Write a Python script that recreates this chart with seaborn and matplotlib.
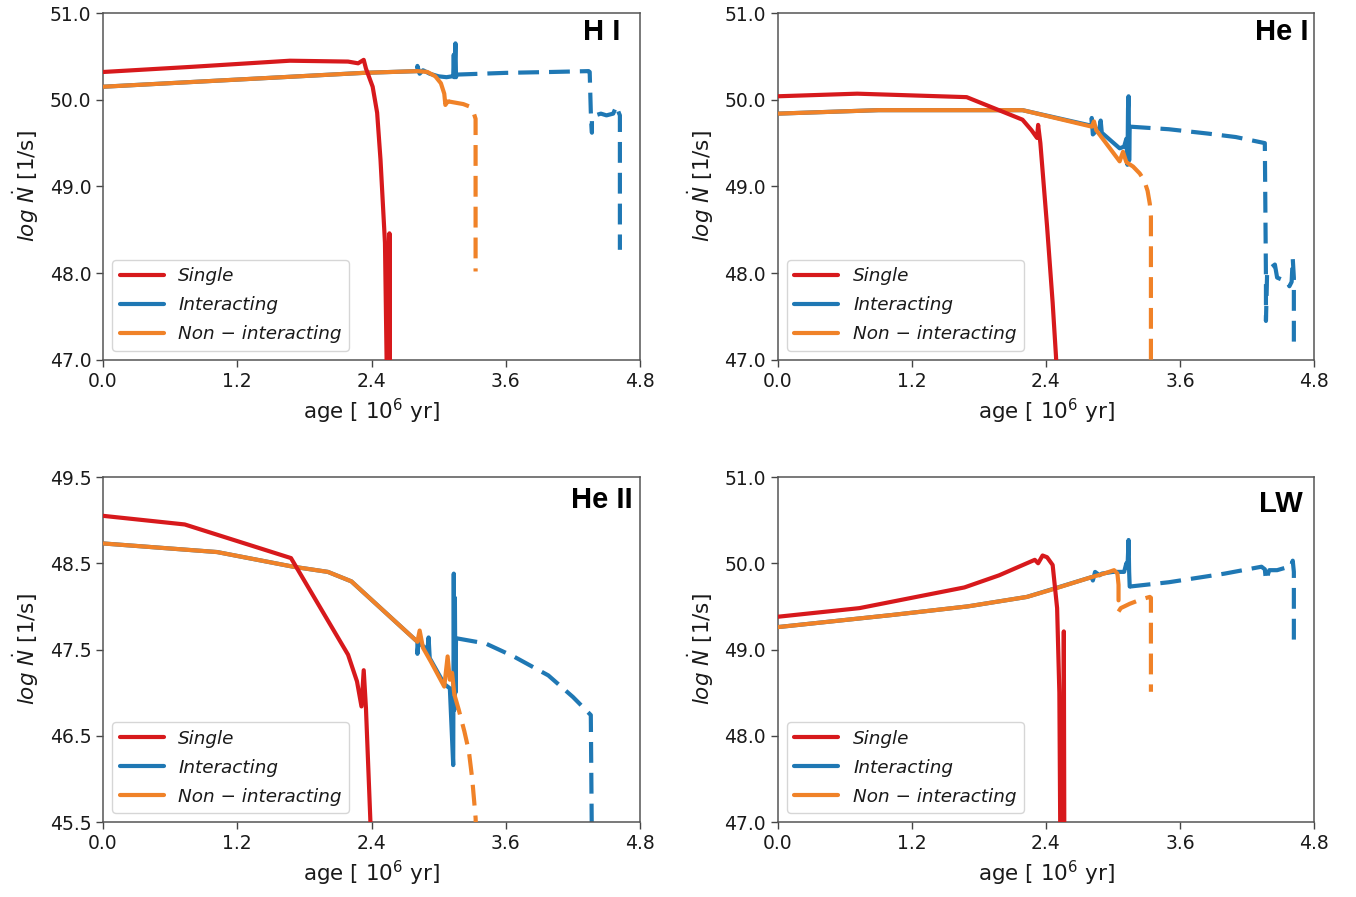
import matplotlib
matplotlib.use("Agg")
import matplotlib.pyplot as plt
import seaborn as sns

# ---------------- data (age in Myr, log Ndot in 1/s) ----------------
AGE_TICKS = [0.0, 1.2, 2.4, 3.6, 4.8]
YTICKS_HI = [47.0, 48.0, 49.0, 50.0, 51.0]
YTICKS_HEI = [47.0, 48.0, 49.0, 50.0, 51.0]
YTICKS_HEII = [45.5, 46.5, 47.5, 48.5, 49.5]
YTICKS_LW = [47.0, 48.0, 49.0, 50.0, 51.0]
PANEL_NAMES = ["H I", "He I", "He II", "LW"]
SERIES_NAMES = ["Single", "Interacting", "Non \u2212 interacting"]

# --- H I ---
HI_single_age = [0.0, 0.8, 1.67, 2.19, 2.28, 2.33, 2.35, 2.41, 2.45, 2.48, 2.52, 2.54, 2.555, 2.56, 2.565]
HI_single_val = [50.32, 50.38, 50.45, 50.44, 50.42, 50.46, 50.36, 50.15, 49.85, 49.31, 48.35, 46.5, 46.5, 48.46, 46.5]
HI_inter_age = [0.0, 2.33, 2.81, 2.81, 2.83, 2.86, 2.92, 3.0, 3.07, 3.12, 3.13, 3.135, 3.14, 3.15, 3.155, 3.16]
HI_inter_val = [50.15, 50.31, 50.33, 50.39, 50.30, 50.34, 50.30, 50.27, 50.26, 50.27, 50.27, 50.52, 50.26, 50.65, 50.26, 50.29]
HI_inter_dash_age = [3.16, 3.6, 4.0, 4.34, 4.35, 4.36, 4.37, 4.37, 4.40, 4.45, 4.50, 4.56, 4.59, 4.61, 4.62, 4.62]
HI_inter_dash_val = [50.29, 50.31, 50.32, 50.33, 50.32, 49.86, 49.62, 49.80, 49.82, 49.84, 49.82, 49.84, 49.93, 49.85, 49.82, 48.27]
HI_non_age = [0.0, 2.33, 2.81, 2.9, 2.97, 3.02, 3.05, 3.06, 3.08, 3.09]
HI_non_val = [50.15, 50.31, 50.33, 50.32, 50.27, 50.19, 50.07, 49.94, 49.98, 49.98]
HI_non_dash_age = [3.09, 3.22, 3.28, 3.31, 3.33, 3.33]
HI_non_dash_val = [49.98, 49.95, 49.92, 49.86, 49.78, 48.02]

# --- He I ---
HEI_single_age = [0.0, 0.71, 1.69, 2.19, 2.27, 2.32, 2.33, 2.35, 2.41, 2.46, 2.49, 2.51]
HEI_single_val = [50.04, 50.07, 50.03, 49.77, 49.65, 49.56, 49.71, 49.50, 48.54, 47.66, 47.04, 46.5]
HEI_inter_age = [0.0, 0.9, 2.19, 2.81, 2.81, 2.82, 2.88, 2.89, 2.90, 3.06, 3.10, 3.12, 3.13, 3.135, 3.14, 3.145, 3.15]
HEI_inter_val = [49.84, 49.88, 49.88, 49.70, 49.79, 49.60, 49.68, 49.76, 49.62, 49.44, 49.46, 49.55, 49.25, 49.90, 50.04, 49.30, 49.69]
HEI_inter_dash_age = [3.15, 3.5, 3.85, 4.1, 4.36, 4.37, 4.37, 4.38, 4.40, 4.45, 4.47, 4.56, 4.58, 4.60, 4.61, 4.62, 4.62]
HEI_inter_dash_val = [49.69, 49.66, 49.61, 49.57, 49.50, 47.95, 47.45, 47.98, 48.05, 48.10, 47.95, 47.90, 47.85, 47.90, 48.17, 47.95, 47.10]
HEI_non_age = [0.0, 0.9, 2.19, 2.81, 2.83, 2.85, 3.06, 3.09, 3.12]
HEI_non_val = [49.84, 49.88, 49.88, 49.69, 49.75, 49.65, 49.29, 49.40, 49.28]
HEI_non_dash_age = [3.12, 3.18, 3.24, 3.28, 3.31, 3.33, 3.34, 3.34]
HEI_non_dash_val = [49.28, 49.23, 49.15, 49.07, 48.95, 48.80, 48.65, 46.5]

# --- He II ---
HEII_single_age = [0.0, 0.73, 1.68, 2.19, 2.27, 2.31, 2.33, 2.35, 2.39, 2.41]
HEII_single_val = [49.05, 48.95, 48.56, 47.44, 47.13, 46.84, 47.26, 46.82, 45.50, 45.2]
HEII_inter_age = [0.0, 1.02, 1.70, 2.01, 2.22, 2.81, 2.81, 2.82, 2.90, 2.91, 2.92, 3.05, 3.10, 3.13, 3.135, 3.14, 3.145, 3.15, 3.155]
HEII_inter_val = [48.73, 48.63, 48.46, 48.40, 48.29, 47.59, 47.45, 47.58, 47.50, 47.64, 47.40, 47.10, 47.05, 46.16, 48.38, 46.80, 48.10, 47.00, 47.63]
HEII_inter_dash_age = [3.16, 3.42, 3.67, 3.98, 4.2, 4.36, 4.37]
HEII_inter_dash_val = [47.63, 47.57, 47.42, 47.20, 46.95, 46.74, 45.2]
HEII_non_age = [0.0, 1.02, 1.70, 2.01, 2.22, 2.81, 2.83, 2.86, 2.93, 3.05, 3.08, 3.10, 3.12, 3.14]
HEII_non_val = [48.73, 48.63, 48.46, 48.40, 48.29, 47.59, 47.72, 47.52, 47.36, 47.07, 47.42, 47.15, 47.23, 46.98]
HEII_non_dash_age = [3.14, 3.18, 3.23, 3.27, 3.30, 3.33, 3.34]
HEII_non_dash_val = [46.98, 46.80, 46.55, 46.32, 46.00, 45.55, 45.2]

# --- LW ---
LW_single_age = [0.0, 0.73, 1.67, 1.98, 2.30, 2.33, 2.37, 2.41, 2.46, 2.50, 2.52, 2.53, 2.555, 2.56, 2.565]
LW_single_val = [49.38, 49.48, 49.72, 49.86, 50.04, 50.00, 50.09, 50.07, 49.98, 49.48, 48.5, 46.5, 46.5, 49.21, 46.5]
LW_inter_age = [0.0, 1.02, 1.70, 2.23, 2.81, 2.82, 2.84, 2.88, 2.90, 3.0, 3.10, 3.12, 3.13, 3.14, 3.145, 3.15]
LW_inter_val = [49.26, 49.40, 49.50, 49.61, 49.84, 49.80, 49.90, 49.86, 49.88, 49.90, 49.90, 50.00, 49.95, 50.27, 49.90, 49.73]
LW_inter_dash_age = [3.15, 3.5, 4.0, 4.33, 4.36, 4.37, 4.40, 4.47, 4.55, 4.59, 4.61, 4.62, 4.62]
LW_inter_dash_val = [49.73, 49.78, 49.88, 49.96, 49.93, 49.80, 49.92, 49.92, 49.95, 49.95, 50.03, 49.90, 49.01]
LW_non_age = [0.0, 1.02, 1.70, 2.23, 2.44, 2.81, 2.92, 3.01, 3.04, 3.05, 3.05]
LW_non_val = [49.26, 49.40, 49.50, 49.61, 49.69, 49.84, 49.88, 49.92, 49.88, 49.75, 49.57]
LW_non_dash_age = [3.05, 3.07, 3.15, 3.25, 3.33, 3.34, 3.34]
LW_non_dash_val = [49.44, 49.48, 49.53, 49.58, 49.61, 49.60, 48.51]

# ---------------- style ----------------
sns.set_style("ticks")
plt.rcParams["font.family"] = ["DejaVu Sans"]
plt.rcParams["mathtext.fontset"] = "dejavusans"
plt.rcParams["text.color"] = "#1a1a1a"
plt.rcParams["axes.labelcolor"] = "#1a1a1a"
plt.rcParams["xtick.color"] = "#1a1a1a"
plt.rcParams["ytick.color"] = "#1a1a1a"

RED = "#d7191c"
BLUE = "#1f78b4"
ORANGE = "#f08228"
LW_LINE = 3.0
DASH = (0, (5, 2.4))

fig = plt.figure(figsize=(13.56, 8.97), dpi=100)
positions = [
    [0.0760, 0.5987, 0.3960, 0.3868],
    [0.5737, 0.5987, 0.3953, 0.3868],
    [0.0760, 0.0836, 0.3960, 0.3846],
    [0.5737, 0.0836, 0.3953, 0.3846],
]

panels = [
    dict(name=PANEL_NAMES[0], yticks=YTICKS_HI,
         single=(HI_single_age, HI_single_val),
         inter=(HI_inter_age, HI_inter_val), inter_d=(HI_inter_dash_age, HI_inter_dash_val),
         non=(HI_non_age, HI_non_val), non_d=(HI_non_dash_age, HI_non_dash_val),
         lx=0.964, ly=0.922),
    dict(name=PANEL_NAMES[1], yticks=YTICKS_HEI,
         single=(HEI_single_age, HEI_single_val),
         inter=(HEI_inter_age, HEI_inter_val), inter_d=(HEI_inter_dash_age, HEI_inter_dash_val),
         non=(HEI_non_age, HEI_non_val), non_d=(HEI_non_dash_age, HEI_non_dash_val),
         lx=0.989, ly=0.922),
    dict(name=PANEL_NAMES[2], yticks=YTICKS_HEII,
         single=(HEII_single_age, HEII_single_val),
         inter=(HEII_inter_age, HEII_inter_val), inter_d=(HEII_inter_dash_age, HEII_inter_dash_val),
         non=(HEII_non_age, HEII_non_val), non_d=(HEII_non_dash_age, HEII_non_dash_val),
         lx=0.986, ly=0.910),
    dict(name=PANEL_NAMES[3], yticks=YTICKS_LW,
         single=(LW_single_age, LW_single_val),
         inter=(LW_inter_age, LW_inter_val), inter_d=(LW_inter_dash_age, LW_inter_dash_val),
         non=(LW_non_age, LW_non_val), non_d=(LW_non_dash_age, LW_non_dash_val),
         lx=0.979, ly=0.899),
]

for pos, p in zip(positions, panels):
    ax = fig.add_axes(pos)
    common = dict(ax=ax, sort=False, estimator=None, linewidth=LW_LINE)
    sns.lineplot(x=p["single"][0], y=p["single"][1], color=RED, label=SERIES_NAMES[0], zorder=4, **common)
    sns.lineplot(x=p["inter"][0], y=p["inter"][1], color=BLUE, label=SERIES_NAMES[1], zorder=2, **common)
    sns.lineplot(x=p["non"][0], y=p["non"][1], color=ORANGE, label=SERIES_NAMES[2], zorder=3, **common)
    sns.lineplot(x=p["inter_d"][0], y=p["inter_d"][1], color=BLUE, linestyle=DASH,
                 label="_nolegend_", zorder=2, **common)
    sns.lineplot(x=p["non_d"][0], y=p["non_d"][1], color=ORANGE, linestyle=DASH,
                 label="_nolegend_", zorder=3, **common)

    ax.set_xlim(AGE_TICKS[0], AGE_TICKS[-1])
    ax.set_ylim(p["yticks"][0], p["yticks"][-1])
    ax.set_xticks(AGE_TICKS)
    ax.set_xticklabels([f"{t:.1f}" for t in AGE_TICKS])
    ax.set_yticks(p["yticks"])
    ax.set_yticklabels([f"{t:.1f}" for t in p["yticks"]])
    ax.tick_params(labelsize=13.5, length=5, width=1.0, color="#444444")
    for s in ax.spines.values():
        s.set_color("#555555")
        s.set_linewidth(1.1)
    ax.set_xlabel(r"age [ $10^6$ yr]", fontsize=15.5)
    ax.set_ylabel(r"$log\ \dot{N}$ [1/s]", fontsize=15.5, labelpad=6)
    ax.text(p["lx"], p["ly"], p["name"], transform=ax.transAxes, ha="right", va="baseline",
            fontsize=21, fontweight="bold", color="black", family=["Liberation Sans", "DejaVu Sans"])
    leg = ax.legend(loc="lower left", prop=dict(style="italic", size=13.2),
                    handlelength=2.4, labelspacing=0.6, borderaxespad=0.5, frameon=True)

fig.savefig("out.png", dpi=100)
